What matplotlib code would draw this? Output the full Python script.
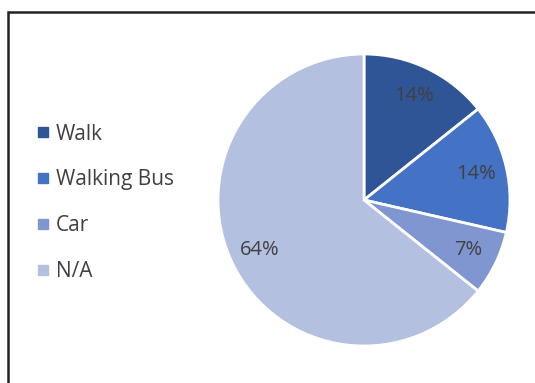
import matplotlib.pyplot as plt
from matplotlib.lines import Line2D
from matplotlib.patches import Rectangle

plt.rcParams['font.family'] = ['Open Sans', 'DejaVu Sans']

labels = ['Walk', 'Walking Bus', 'Car', 'N/A']
counts = [2, 2, 1, 9]
colors = ['#2F5597', '#4472C4', '#7F96D0', '#B4C0E0']
text_color = '#404040'

fig = plt.figure(figsize=(5.35, 3.83), dpi=100)

# frame around the chart area
fig.patches.append(Rectangle((7.5 / 535, -0.05), 1.1, 1 - 11.5 / 383 + 0.05,
                             transform=fig.transFigure, fill=False,
                             edgecolor='#222222', linewidth=1.8))

ax = fig.add_axes([(364 - 146) / 535, (183 - 146) / 383, 292 / 535, 292 / 383])
wedges, _, autotexts = ax.pie(counts, colors=colors, startangle=90, counterclock=False,
                              autopct='%1.0f%%', pctdistance=0.79,
                              wedgeprops=dict(edgecolor='white', linewidth=2),
                              textprops=dict(color=text_color, fontsize=14.5))
ax.set_xlim(-1.0, 1.0)
ax.set_ylim(-1.0, 1.0)
ax.set_aspect('equal')

handles = [Line2D([], [], marker='s', linestyle='none', markersize=6.5,
                  markerfacecolor=c, markeredgecolor=c) for c in colors]
fig.legend(handles, labels, loc='upper left', bbox_to_anchor=(0.0524, 0.699),
           frameon=False, fontsize=15, labelcolor=text_color,
           handlelength=0.6, handletextpad=0.35, labelspacing=1.19,
           borderaxespad=0)

fig.savefig('out.png', dpi=100)
